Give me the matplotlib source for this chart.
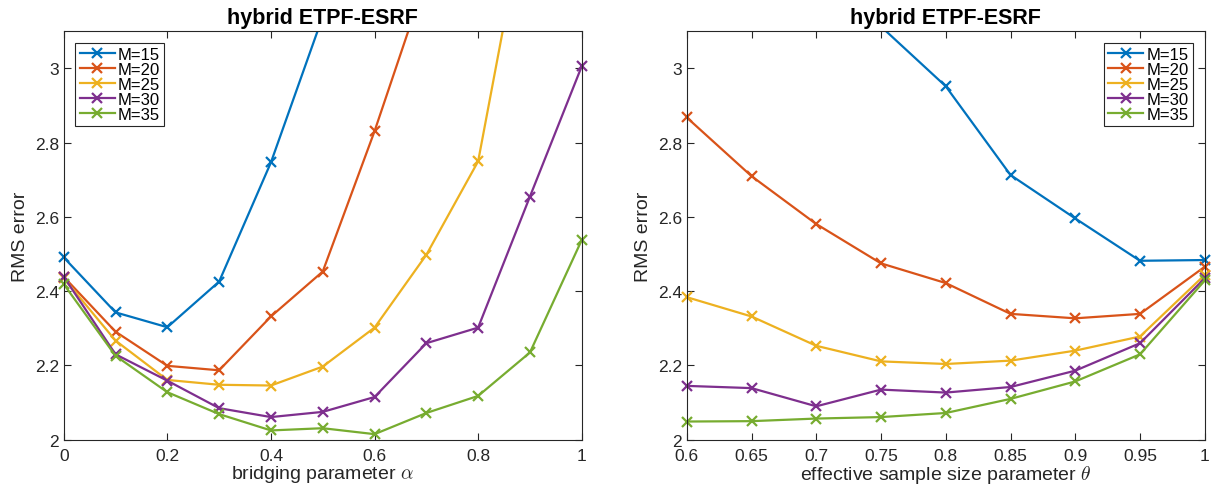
import matplotlib
matplotlib.use("Agg")
import matplotlib.pyplot as plt
import numpy as np
from matplotlib.ticker import FormatStrFormatter

plt.rcParams['font.family'] = ['Liberation Sans', 'DejaVu Sans']
plt.rcParams['mathtext.fontset'] = 'cm'

# data
labels = ["M=15", "M=20", "M=25", "M=30", "M=35"]
colors = ["#0072BD", "#D95319", "#EDB120", "#7E2F8E", "#77AC30"]

alpha = [0.0, 0.1, 0.2, 0.3, 0.4, 0.5, 0.6, 0.7, 0.8, 0.9, 1.0]
rms_alpha = [
    [2.491, 2.343, 2.303, 2.426, 2.747, 3.14, 3.60, 4.10, 4.60, 5.10, 5.60],
    [2.439, 2.291, 2.199, 2.187, 2.332, 2.453, 2.831, 3.245, 3.70, 4.20, 4.70],
    [2.435, 2.267, 2.161, 2.148, 2.146, 2.197, 2.302, 2.498, 2.750, 3.49, 4.00],
    [2.439, 2.230, 2.159, 2.085, 2.061, 2.075, 2.115, 2.260, 2.302, 2.655, 3.006],
    [2.419, 2.226, 2.128, 2.069, 2.025, 2.031, 2.015, 2.072, 2.118, 2.235, 2.538],
]

theta = [0.6, 0.65, 0.7, 0.75, 0.8, 0.85, 0.9, 0.95, 1.0]
rms_theta = [
    [3.70, 3.50, 3.30, 3.113, 2.952, 2.713, 2.596, 2.482, 2.484],
    [2.868, 2.710, 2.581, 2.475, 2.422, 2.339, 2.327, 2.339, 2.466],
    [2.384, 2.332, 2.253, 2.211, 2.204, 2.213, 2.240, 2.278, 2.444],
    [2.145, 2.139, 2.090, 2.135, 2.127, 2.142, 2.186, 2.260, 2.435],
    [2.049, 2.050, 2.057, 2.061, 2.072, 2.110, 2.157, 2.230, 2.429],
]

YTOP = 3.1

fig = plt.figure(figsize=(12.14, 4.85), dpi=100)
ax1 = fig.add_axes([0.0525, 0.0913, 0.4267, 0.842])
ax2 = fig.add_axes([0.5657, 0.0913, 0.4267, 0.842])


def draw_series(ax, x, ys):
    for i in range(len(labels)):
        y = np.array(ys[i])
        # line clipped to the axes
        ax.plot(x, y, color=colors[i], lw=1.6)
        # markers drawn unclipped (MATLAB style), only those inside the y range
        ym = np.ma.masked_where(y > YTOP, y)
        ax.plot(x, ym, color=colors[i], lw=0, marker="x", ms=6.5, mew=1.6,
                clip_on=False)
        # legend proxy
        ax.plot([], [], color=colors[i], lw=1.6, marker="x", ms=6.5, mew=1.6,
                label=labels[i])


def style_axes(ax):
    for s in ax.spines.values():
        s.set_color("#262626")
        s.set_linewidth(0.8)
    ax.tick_params(direction="in", top=True, right=True, length=5,
                   width=0.8, color="#262626", labelsize=12.5,
                   labelcolor="#262626")
    ax.tick_params(axis="x", pad=6)
    ax.set_ylim(2, YTOP)
    ax.set_yticks([2, 2.2, 2.4, 2.6, 2.8, 3])
    ax.yaxis.set_major_formatter(FormatStrFormatter('%g'))
    ax.xaxis.set_major_formatter(FormatStrFormatter('%g'))
    ax.set_ylabel("RMS error", fontsize=14, color="#262626", labelpad=4)
    ax.set_title("hybrid ETPF-ESRF", fontsize=15.5, fontweight="bold", pad=6)


draw_series(ax1, alpha, rms_alpha)
draw_series(ax2, theta, rms_theta)

style_axes(ax1)
ax1.set_xlim(0, 1)
ax1.set_xticks([0, 0.2, 0.4, 0.6, 0.8, 1])
ax1.set_xlabel(r"bridging parameter $\alpha$", fontsize=14, color="#262626", labelpad=0)

style_axes(ax2)
ax2.set_xlim(0.6, 1)
ax2.set_xticks(theta)
ax2.set_xlabel(r"effective sample size parameter $\theta$", fontsize=14, color="#262626", labelpad=0)

for ax, loc in [(ax1, "upper left"), (ax2, "upper right")]:
    leg = ax.legend(loc=loc, fontsize=12, handlelength=2.1, handletextpad=0.2,
                    labelspacing=0.0, borderpad=0.25, borderaxespad=0.7,
                    fancybox=False, framealpha=1)
    leg.get_frame().set_edgecolor("#262626")
    leg.get_frame().set_linewidth(0.8)

fig.savefig("out.png", dpi=100)
